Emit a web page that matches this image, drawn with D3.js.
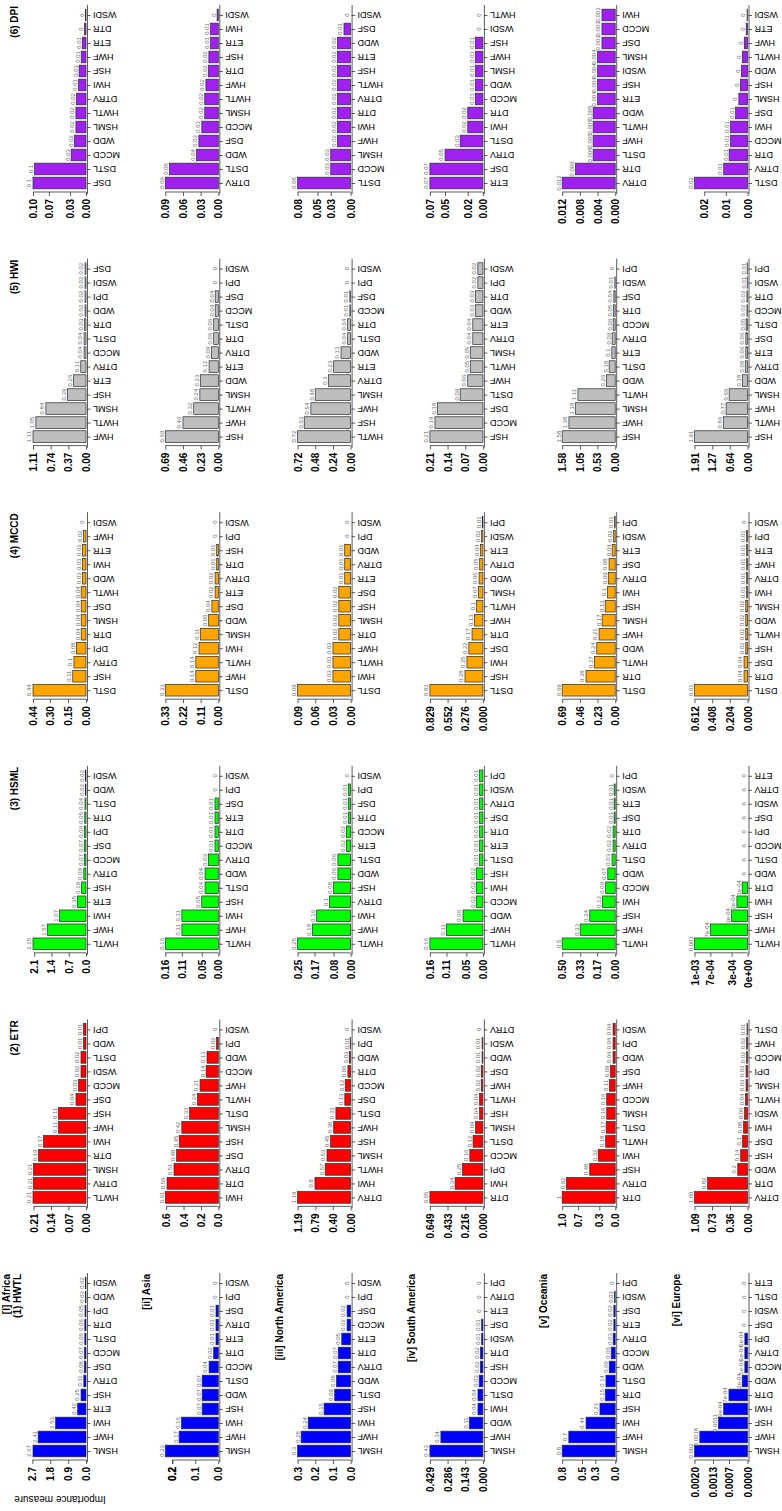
<!DOCTYPE html>
<html>
<head>
<meta charset="utf-8">
<script src="https://cdn.jsdelivr.net/npm/d3@7"></script>
<style>
  html, body { margin: 0; padding: 0; background: #fff; }
  svg { display: block; font-family: "Liberation Sans", Arial, Helvetica, sans-serif; }
</style>
</head>
<body>
<svg id="chart" width="782" height="1511"></svg>
<script>
// Regions (one column each) and target indices (one row each, HWTL at the bottom).
const regions = ["Africa", "Asia", "North America", "South America", "Oceania", "Europe"];
const regionTitles = ["[I] Africa", "[ii] Asia", "[iii] North America", "[iv] South America", "[v] Oceania", "[vi] Europe"];
const indices = ["HWTL", "ETR", "HSML", "MCCD", "HWI", "DPI"];
const indexTitles = ["(1) HWTL", "(2) ETR", "(3) HSML", "(4) MCCD", "(5) HWI", "(6) DPI"];
const indexColors = ["#0000FF", "#FF0000", "#00FF00", "#FFA500", "#BEBEBE", "#A020F0"];

// ---- Africa ----
const af_hwtl_cats = ["HSML","HWF","HWI","ETR","HSF","DTRV","DSF","MCCD","DSTL","DTR","DPI","WDD","WSDI"];
const af_hwtl_vals = [2.67, 2.41, 1.53, 0.42, 0.25, 0.11, 0.08, 0.07, 0.06, 0.06, 0.05, 0.03, 0.02];
const af_hwtl_ticks = ["0.0", "0.9", "1.8", "2.7"];
const af_etr_cats = ["HWTL","DTRV","HSML","DTR","HWI","HWF","HSF","DSF","MCCD","WSDI","DSTL","WDD","DPI"];
const af_etr_vals = [0.212, 0.211, 0.21, 0.19, 0.17, 0.11, 0.11, 0.04, 0.03, 0.02, 0.02, 0.01, 0.01];
const af_etr_ticks = ["0.00", "0.07", "0.14", "0.21"];
const af_hsml_cats = ["HWTL","HWF","HWI","ETR","HSF","DTRV","MCCD","DSF","DPI","DTR","DSTL","WDD","WSDI"];
const af_hsml_vals = [2.15, 1.57, 1.07, 0.35, 0.19, 0.09, 0.07, 0.07, 0.06, 0.05, 0.04, 0.02, 0.02];
const af_hsml_ticks = ["0.0", "0.7", "1.4", "2.1"];
const af_mccd_cats = ["DSTL","HSF","DTRV","DPI","DTR","HSML","DSF","HWTL","WDD","HWI","ETR","HWF","WSDI"];
const af_mccd_vals = [0.44, 0.11, 0.1, 0.08, 0.04, 0.04, 0.04, 0.04, 0.03, 0.03, 0.03, 0.02, 0];
const af_mccd_ticks = ["0.00", "0.15", "0.30", "0.44"];
const af_hwi_cats = ["HWF","HWTL","HSML","HSF","ETR","DTRV","MCCD","DSTL","DTR","WDD","DPI","WSDI","DSF"];
const af_hwi_vals = [1.11, 1.05, 0.84, 0.39, 0.26, 0.11, 0.04, 0.04, 0.03, 0.02, 0.02, 0.02, 0.02];
const af_hwi_ticks = ["0.00", "0.37", "0.74", "1.11"];
const af_dpi_cats = ["DSF","DSTL","MCCD","WDD","HSML","HWTL","DTRV","HWI","HSF","HWF","ETR","DTR","WSDI"];
const af_dpi_vals = [0.1, 0.097, 0.028, 0.022, 0.019, 0.019, 0.018, 0.014, 0.013, 0.009, 0.007, 0.003, 0.001];
const af_dpi_ticks = ["0.00", "0.03", "0.07", "0.10"];

// ---- Asia ----
const as_hwtl_cats = ["HSML","HWF","HWI","HSF","WDD","DSTL","MCCD","DTR","ETR","DTRV","DSF","DPI","WSDI"];
const as_hwtl_vals = [0.23, 0.17, 0.16, 0.07, 0.07, 0.07, 0.04, 0.02, 0.01, 0.01, 0.01, 0, 0];
const as_hwtl_ticks = ["0.0", "0.1", "0.2", "0.2"];
const as_etr_cats = ["HWI","DTR","DTRV","DSF","HSF","HSML","DSTL","HWTL","HWF","MCCD","WDD","DPI","WSDI"];
const as_etr_vals = [0.61, 0.59, 0.51, 0.48, 0.45, 0.42, 0.33, 0.24, 0.21, 0.14, 0.13, 0.02, 0];
const as_etr_ticks = ["0.0", "0.2", "0.4", "0.6"];
const as_hsml_cats = ["HWTL","HWF","HWI","HSF","DSTL","WDD","DTRV","MCCD","DTR","ETR","DSF","DPI","WSDI"];
const as_hsml_vals = [0.16, 0.11, 0.11, 0.05, 0.04, 0.04, 0.03, 0.01, 0.01, 0.01, 0.01, 0, 0];
const as_hsml_ticks = ["0.00", "0.05", "0.11", "0.16"];
const as_mccd_cats = ["DSTL","HWF","HWTL","HWI","HSML","WDD","DSF","ETR","DTRV","DTR","HSF","DPI","WSDI"];
const as_mccd_vals = [0.33, 0.14, 0.14, 0.12, 0.11, 0.06, 0.04, 0.02, 0.02, 0.01, 0.01, 0, 0];
const as_mccd_ticks = ["0.00", "0.11", "0.22", "0.33"];
const as_hwi_cats = ["HSF","HWF","HWTL","HSML","WDD","ETR","DTRV","DTR","DSTL","MCCD","DSF","DPI","WSDI"];
const as_hwi_vals = [0.69, 0.46, 0.32, 0.24, 0.23, 0.12, 0.09, 0.06, 0.06, 0.04, 0.04, 0, 0];
const as_hwi_ticks = ["0.00", "0.23", "0.46", "0.69"];
const as_dpi_cats = ["DTRV","DSTL","WDD","DSF","MCCD","HSML","HWTL","HWF","DTR","HSF","ETR","HWI","WSDI"];
const as_dpi_vals = [0.09, 0.083, 0.037, 0.033, 0.028, 0.023, 0.023, 0.021, 0.017, 0.016, 0.013, 0.013, 0.002];
const as_dpi_ticks = ["0.00", "0.03", "0.06", "0.09"];

// ---- North America ----
const na_hwtl_cats = ["HSML","HWF","HWI","HSF","DSTL","WDD","DTRV","DTR","ETR","MCCD","DSF","DPI","WSDI"];
const na_hwtl_vals = [0.3, 0.28, 0.24, 0.15, 0.09, 0.08, 0.07, 0.07, 0.05, 0.02, 0.02, 0, 0];
const na_hwtl_ticks = ["0.0", "0.1", "0.2", "0.3"];
const na_etr_cats = ["DTRV","HWI","HWTL","HSML","HSF","HWF","DSTL","DSF","MCCD","DTR","WDD","DPI","WSDI"];
const na_etr_vals = [1.19, 0.8, 0.57, 0.53, 0.45, 0.38, 0.33, 0.13, 0.12, 0.06, 0.03, 0.01, 0];
const na_etr_ticks = ["0.00", "0.40", "0.79", "1.19"];
const na_hsml_cats = ["HWTL","HWF","HWI","DTRV","HSF","WDD","DSTL","ETR","MCCD","DTR","DSF","DPI","WSDI"];
const na_hsml_vals = [0.25, 0.18, 0.16, 0.1, 0.08, 0.06, 0.06, 0.02, 0.02, 0.01, 0.01, 0.01, 0];
const na_hsml_ticks = ["0.00", "0.08", "0.17", "0.25"];
const na_mccd_cats = ["DSTL","HWI","HWTL","HWF","DTR","HSML","HSF","DSF","ETR","DTRV","WDD","DPI","WSDI"];
const na_mccd_vals = [0.09, 0.03, 0.03, 0.03, 0.02, 0.02, 0.02, 0.02, 0.01, 0.01, 0.01, 0, 0];
const na_mccd_ticks = ["0.00", "0.03", "0.06", "0.09"];
const na_hwi_cats = ["HWTL","HSF","HWF","HSML","DTRV","ETR","WDD","DSTL","DTR","MCCD","DSF","DPI","WSDI"];
const na_hwi_vals = [0.72, 0.63, 0.54, 0.48, 0.3, 0.23, 0.13, 0.04, 0.04, 0.01, 0.01, 0, 0];
const na_hwi_ticks = ["0.00", "0.24", "0.48", "0.72"];
const na_dpi_cats = ["DSTL","MCCD","HSML","HWF","HWI","DTR","DTRV","HWTL","HSF","ETR","WDD","DSF","WSDI"];
const na_dpi_vals = [0.08, 0.03, 0.03, 0.02, 0.02, 0.02, 0.02, 0.02, 0.02, 0.02, 0.02, 0.01, 0];
const na_dpi_ticks = ["0.00", "0.03", "0.05", "0.08"];

// ---- South America ----
const sa_hwtl_cats = ["HSML","HWF","WDD","HWI","DSTL","MCCD","HSF","DTR","WSDI","DSF","ETR","DTRV","DPI"];
const sa_hwtl_vals = [0.429, 0.34, 0.11, 0.04, 0.04, 0.03, 0.02, 0.02, 0.01, 0.01, 0, 0, 0];
const sa_hwtl_ticks = ["0.000", "0.143", "0.286", "0.429"];
const sa_etr_cats = ["DTR","HWI","DPI","MCCD","DSTL","HSML","HSF","HWTL","HWF","DSF","WDD","WSDI","DTRV"];
const sa_etr_vals = [0.649, 0.34, 0.25, 0.16, 0.12, 0.09, 0.04, 0.04, 0.02, 0.02, 0.01, 0.01, 0];
const sa_etr_ticks = ["0.000", "0.216", "0.433", "0.649"];
const sa_hsml_cats = ["HWTL","HWF","WDD","MCCD","HWI","HSF","DSTL","ETR","DTR","DSF","DTRV","WSDI","DPI"];
const sa_hsml_vals = [0.16, 0.11, 0.06, 0.02, 0.02, 0.02, 0.01, 0.01, 0.01, 0.01, 0.01, 0.01, 0.01];
const sa_hsml_ticks = ["0.00", "0.05", "0.11", "0.16"];
const sa_mccd_cats = ["DSTL","HSF","HWI","DSF","DTR","HWF","HWTL","HSML","WDD","DTRV","ETR","WSDI","DPI"];
const sa_mccd_vals = [0.829, 0.28, 0.25, 0.22, 0.17, 0.13, 0.1, 0.07, 0.06, 0.05, 0.04, 0.02, 0.01];
const sa_mccd_ticks = ["0.000", "0.276", "0.552", "0.829"];
const sa_hwi_cats = ["HSF","MCCD","DSF","DSTL","HWF","HWTL","HSML","DTRV","ETR","WDD","DTR","DPI","WSDI"];
const sa_hwi_vals = [0.21, 0.19, 0.18, 0.09, 0.06, 0.05, 0.05, 0.04, 0.04, 0.03, 0.03, 0.02, 0.02];
const sa_hwi_ticks = ["0.00", "0.07", "0.14", "0.21"];
const sa_dpi_cats = ["ETR","DSF","DTRV","DSTL","HWI","DTR","MCCD","WDD","HSML","HWF","HSF","WSDI","HWTL"];
const sa_dpi_vals = [0.07, 0.07, 0.05, 0.03, 0.02, 0.02, 0.01, 0.01, 0.01, 0.01, 0.01, 0, 0];
const sa_dpi_ticks = ["0.00", "0.02", "0.05", "0.07"];

// ---- Oceania ----
const oc_hwtl_cats = ["HSML","HWF","HWI","HSF","DTR","DSTL","WDD","MCCD","DTRV","ETR","DSF","WSDI","DPI"];
const oc_hwtl_vals = [0.8, 0.7, 0.44, 0.23, 0.15, 0.14, 0.09, 0.06, 0.03, 0.02, 0.02, 0.01, 0];
const oc_hwtl_ticks = ["0.0", "0.3", "0.5", "0.8"];
const oc_etr_cats = ["DTR","DTRV","HSF","HWI","HWTL","DSTL","HSML","MCCD","HWF","DSF","WDD","DPI","WSDI"];
const oc_etr_vals = [1, 0.92, 0.48, 0.32, 0.18, 0.17, 0.16, 0.16, 0.11, 0.09, 0.04, 0.04, 0.04];
const oc_etr_ticks = ["0.0", "0.3", "0.7", "1.0"];
const oc_hsml_cats = ["HWTL","HWF","HSF","HWI","MCCD","WDD","DSTL","DTRV","DTR","DSF","ETR","WSDI","DPI"];
const oc_hsml_vals = [0.5, 0.33, 0.24, 0.12, 0.09, 0.07, 0.03, 0.02, 0.02, 0.01, 0.01, 0.01, 0];
const oc_hsml_ticks = ["0.00", "0.17", "0.33", "0.50"];
const oc_mccd_cats = ["DSTL","DTR","HWTL","WDD","HWF","HSML","HSF","HWI","DTRV","DSF","ETR","WSDI","DPI"];
const oc_mccd_vals = [0.69, 0.38, 0.27, 0.24, 0.21, 0.17, 0.13, 0.1, 0.09, 0.08, 0.04, 0.02, 0.01];
const oc_mccd_ticks = ["0.00", "0.23", "0.46", "0.69"];
const oc_hwi_cats = ["HSF","HWF","HSML","HWTL","WDD","DSTL","ETR","DTRV","MCCD","DTR","DSF","WSDI","DPI"];
const oc_hwi_vals = [1.58, 1.38, 1.18, 1.11, 0.26, 0.18, 0.1, 0.09, 0.06, 0.05, 0.04, 0.01, 0];
const oc_hwi_ticks = ["0.00", "0.53", "1.05", "1.58"];
const oc_dpi_cats = ["DTRV","DTR","DSTL","HWF","HWTL","WDD","ETR","HSF","WSDI","HSML","DSF","MCCD","HWI"];
const oc_dpi_vals = [0.012, 0.009, 0.005, 0.005, 0.005, 0.005, 0.004, 0.004, 0.004, 0.004, 0.003, 0.003, 0.003];
const oc_dpi_ticks = ["0.000", "0.004", "0.008", "0.012"];

// ---- Europe ----
const eu_hwtl_cats = ["HSML","HWF","HSF","HWI","DTR","WDD","MCCD","DTRV","DPI","DSF","WSDI","DSTL","ETR"];
const eu_hwtl_vals = [0.002, 0.0018, 0.0011, 0.0009, 0.0007, 0.0002, 0.0001, 0.0001, 0.0001, 0, 0, 0, 0];
const eu_hwtl_ticks = ["0.0000", "0.0007", "0.0013", "0.0020"];
const eu_etr_cats = ["DTRV","DTR","WDD","HSF","DSF","HWI","WSDI","HWTL","HSML","DPI","MCCD","HWF","DSTL"];
const eu_etr_vals = [1.09, 0.82, 0.2, 0.14, 0.1, 0.08, 0.06, 0.04, 0.03, 0.03, 0.02, 0.02, 0.01];
const eu_etr_ticks = ["0.00", "0.36", "0.73", "1.09"];
const eu_hsml_cats = ["HWTL","HWF","HSF","HWI","DTR","WDD","DSTL","MCCD","DPI","DSF","WSDI","DTRV","ETR"];
const eu_hsml_vals = [0.001, 0.0007, 0.0003, 0.0002, 0.0001, 0, 0, 0, 0, 0, 0, 0, 0];
const eu_hsml_ticks = ["0e+00", "3e-04", "7e-04", "1e-03"];
const eu_mccd_cats = ["DSTL","DTR","DSF","HSF","HWTL","WDD","HSML","HWI","DTRV","HWF","ETR","DPI","WSDI"];
const eu_mccd_vals = [0.612, 0.04, 0.04, 0.02, 0.02, 0.02, 0.02, 0.01, 0.01, 0.01, 0.01, 0.01, 0];
const eu_mccd_ticks = ["0.000", "0.204", "0.408", "0.612"];
const eu_hwi_cats = ["HSF","HWTL","HWF","HSML","WDD","DTRV","ETR","DSF","DSTL","MCCD","DTR","WSDI","DPI"];
const eu_hwi_vals = [1.91, 0.86, 0.77, 0.66, 0.18, 0.08, 0.06, 0.06, 0.05, 0.02, 0.02, 0.01, 0.01];
const eu_hwi_ticks = ["0.00", "0.64", "1.27", "1.91"];
const eu_dpi_cats = ["DSTL","DTRV","DTR","MCCD","HWI","DSF","HSML","HSF","WDD","HWTL","HWF","ETR","WSDI"];
const eu_dpi_vals = [0.0245, 0.011, 0.0085, 0.0078, 0.0078, 0.0055, 0.004, 0.0033, 0.0028, 0.0024, 0.0015, 0.0006, 0.0002];
const eu_dpi_ticks = ["0.00", "0.01", "0.02"];

// Panels: [region column, index row, categories, values, tick labels, label digits]
const panels = [
  [0, 0, af_hwtl_cats, af_hwtl_vals, af_hwtl_ticks, 2],
  [0, 1, af_etr_cats, af_etr_vals, af_etr_ticks, 2],
  [0, 2, af_hsml_cats, af_hsml_vals, af_hsml_ticks, 2],
  [0, 3, af_mccd_cats, af_mccd_vals, af_mccd_ticks, 2],
  [0, 4, af_hwi_cats, af_hwi_vals, af_hwi_ticks, 2],
  [0, 5, af_dpi_cats, af_dpi_vals, af_dpi_ticks, 2],
  [1, 0, as_hwtl_cats, as_hwtl_vals, as_hwtl_ticks, 2],
  [1, 1, as_etr_cats, as_etr_vals, as_etr_ticks, 2],
  [1, 2, as_hsml_cats, as_hsml_vals, as_hsml_ticks, 2],
  [1, 3, as_mccd_cats, as_mccd_vals, as_mccd_ticks, 2],
  [1, 4, as_hwi_cats, as_hwi_vals, as_hwi_ticks, 2],
  [1, 5, as_dpi_cats, as_dpi_vals, as_dpi_ticks, 2],
  [2, 0, na_hwtl_cats, na_hwtl_vals, na_hwtl_ticks, 2],
  [2, 1, na_etr_cats, na_etr_vals, na_etr_ticks, 2],
  [2, 2, na_hsml_cats, na_hsml_vals, na_hsml_ticks, 2],
  [2, 3, na_mccd_cats, na_mccd_vals, na_mccd_ticks, 2],
  [2, 4, na_hwi_cats, na_hwi_vals, na_hwi_ticks, 2],
  [2, 5, na_dpi_cats, na_dpi_vals, na_dpi_ticks, 2],
  [3, 0, sa_hwtl_cats, sa_hwtl_vals, sa_hwtl_ticks, 2],
  [3, 1, sa_etr_cats, sa_etr_vals, sa_etr_ticks, 2],
  [3, 2, sa_hsml_cats, sa_hsml_vals, sa_hsml_ticks, 2],
  [3, 3, sa_mccd_cats, sa_mccd_vals, sa_mccd_ticks, 2],
  [3, 4, sa_hwi_cats, sa_hwi_vals, sa_hwi_ticks, 2],
  [3, 5, sa_dpi_cats, sa_dpi_vals, sa_dpi_ticks, 2],
  [4, 0, oc_hwtl_cats, oc_hwtl_vals, oc_hwtl_ticks, 2],
  [4, 1, oc_etr_cats, oc_etr_vals, oc_etr_ticks, 2],
  [4, 2, oc_hsml_cats, oc_hsml_vals, oc_hsml_ticks, 2],
  [4, 3, oc_mccd_cats, oc_mccd_vals, oc_mccd_ticks, 2],
  [4, 4, oc_hwi_cats, oc_hwi_vals, oc_hwi_ticks, 2],
  [4, 5, oc_dpi_cats, oc_dpi_vals, oc_dpi_ticks, 3],
  [5, 0, eu_hwtl_cats, eu_hwtl_vals, eu_hwtl_ticks, 4],
  [5, 1, eu_etr_cats, eu_etr_vals, eu_etr_ticks, 2],
  [5, 2, eu_hsml_cats, eu_hsml_vals, eu_hsml_ticks, 4],
  [5, 3, eu_mccd_cats, eu_mccd_vals, eu_mccd_ticks, 2],
  [5, 4, eu_hwi_cats, eu_hwi_vals, eu_hwi_ticks, 2],
  [5, 5, eu_dpi_cats, eu_dpi_vals, eu_dpi_ticks, 2]
];

// Layout of the rotated panel grid
const colPitch = 132.3;   // horizontal distance between region columns
const rowPitch = 253.6;   // vertical distance between index rows
const baseX0 = 86;        // bar baseline of the first column
const barSpan = 53;       // pixel length of the longest bar in a panel

// R-style number printing: fixed notation unless scientific is shorter
function rLabel(v, digits) {
  const p = Math.pow(10, digits);
  const r = Math.round(v * p) / p;
  if (r === 0) return "0";
  const fixed = String(+r.toFixed(digits));
  const sci = r.toExponential().replace(/e([+-])(\d)$/, "e$10$2");
  return sci.length < fixed.length ? sci : fixed;
}

const svg = d3.select("#chart");

panels.forEach(([c, i, cats, vals, ticks, digits]) => {
  const k = 5 - i;                       // DPI on top, HWTL at the bottom
  const top = k * rowPitch;
  const x0 = baseX0 + c * colPitch;
  const colLeft = x0 - baseX0;
  const color = indexColors[i];
  const vmax = d3.max(vals);

  const xs = d3.scaleLinear().domain([0, vmax]).range([x0, x0 - barSpan]);
  const ys = d3.scalePoint().domain(cats).range([top + 193.5, top + 4.5]).padding(0.75);
  const barH = ys.step() / 1.2;

  const g = svg.append("g");

  // bars
  g.selectAll("rect.bar").data(cats).enter().append("rect")
    .attr("class", "bar")
    .attr("x", (d, j) => xs(vals[j]))
    .attr("y", d => ys(d) - barH / 2)
    .attr("width", (d, j) => x0 - xs(vals[j]))
    .attr("height", barH)
    .attr("fill", color)
    .attr("stroke", "#2a2a2a")
    .attr("stroke-width", 0.7);

  // value labels at the bar ends
  g.selectAll("text.val").data(cats).enter().append("text")
    .attr("class", "val")
    .attr("transform", (d, j) => `translate(${xs(vals[j]) - 1.6},${ys(d)}) rotate(-90)`)
    .attr("text-anchor", "middle")
    .attr("font-size", 6)
    .attr("fill", "#6a6a6a")
    .text((d, j) => rLabel(vals[j], digits));

  // category axis (labels turned upside down)
  const catAxis = g.append("g")
    .attr("transform", `translate(${x0 + 1},0)`)
    .call(d3.axisRight(ys).tickSize(3.5).tickSizeOuter(0).tickPadding(2.5));
  catAxis.select(".domain").attr("stroke", "#333").attr("stroke-width", 0.8);
  catAxis.selectAll(".tick line").attr("stroke", "#333").attr("stroke-width", 0.8);
  catAxis.selectAll(".tick text")
    .attr("text-anchor", "end")
    .attr("dy", "0.34em")
    .attr("font-size", 9)
    .attr("font-family", "Liberation Sans, Arial, sans-serif")
    .attr("fill", "#000")
    .attr("transform", function () { return `rotate(180 ${d3.select(this).attr("x")} 0)`; });

  // value axis: ticks at the rounded values printed on them
  const tickNums = ticks.map(Number);
  const valAxis = g.append("g")
    .attr("transform", `translate(0,${top + 192})`)
    .call(d3.axisBottom(xs).tickValues(tickNums).tickFormat((d, j) => ticks[j])
      .tickSize(4).tickSizeOuter(0).tickPadding(3));
  valAxis.select(".domain").remove();
  valAxis.append("line")
    .attr("x1", xs(d3.min(tickNums))).attr("x2", xs(d3.max(tickNums)))
    .attr("stroke", "#333").attr("stroke-width", 0.8);
  valAxis.selectAll(".tick line").attr("stroke", "#333").attr("stroke-width", 0.8);
  valAxis.selectAll(".tick text")
    .attr("x", 0).attr("y", 0).attr("dy", "0.35em")
    .attr("text-anchor", "end")
    .attr("transform", "translate(0,7) rotate(-90)")
    .attr("font-size", 10)
    .attr("font-weight", "bold")
    .attr("font-family", "Liberation Sans, Arial, sans-serif")
    .attr("fill", "#000");

  // titles: index names down the first column, region names along the bottom row
  const titleLines = [];
  if (i === 0) titleLines.push(regionTitles[c]);
  if (c === 0) titleLines.push(indexTitles[i]);
  titleLines.forEach((t, n) => {
    const shift = titleLines.length > 1 ? 3 : 0;
    const bx = colLeft + 18 + shift - (titleLines.length - 1 - n) * 11.5;
    svg.append("text")
      .attr("transform", `translate(${bx},${top + 6}) rotate(-90)`)
      .attr("text-anchor", "end")
      .attr("font-size", 10)
      .attr("font-weight", "bold")
      .attr("fill", "#000")
      .text(t);
  });
});

// axis title of the value scale, once beside the first panel
svg.append("text")
  .attr("transform", `translate(60,${5 * rowPitch + 228}) rotate(180)`)
  .attr("text-anchor", "middle")
  .attr("font-size", 10)
  .attr("fill", "#000")
  .text("Importance measure");
</script>
</body>
</html>
